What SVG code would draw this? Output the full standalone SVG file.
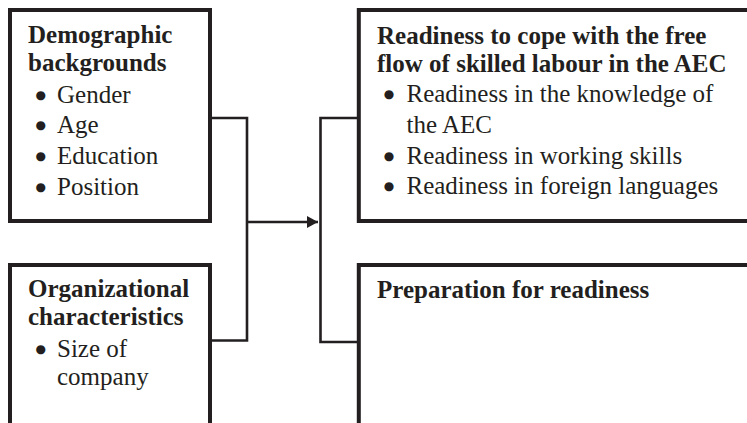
<svg xmlns="http://www.w3.org/2000/svg" width="747" height="423" viewBox="0 0 747 423">
<defs>
<style>
.box{fill:#fff;stroke:#231f20;stroke-width:4}
.con{fill:none;stroke:#231f20;stroke-width:2.6}
text{font-family:"Liberation Serif","Times New Roman",serif;font-size:25px;fill:#231f20}
.h{font-weight:bold}
.b{font-family:"DejaVu Sans",sans-serif;font-size:12px;text-anchor:middle}
</style>
<marker id="arr" markerUnits="userSpaceOnUse" markerWidth="12" markerHeight="14" refX="11" refY="7" orient="auto">
<path d="M0,1 L11,7 L0,13 Z" fill="#231f20"/>
</marker>
</defs>
<rect width="747" height="423" fill="#fff"/>
<g id="connectors">
<path class="con" d="M210,118 H247 V340.5 H210"/>
<path class="con" d="M358.8,118 H320.5 V342 H358.8"/>
<path class="con" d="M247,222 H318" marker-end="url(#arr)"/>
</g>
<g id="demographic">
<rect class="box" x="10" y="10" width="200" height="211"/>
<text class="h" x="28" y="43">Demographic</text>
<text class="h" x="28" y="71">backgrounds</text>
<text class="b" x="40.7" y="98.5">●</text><text x="57" y="102.5">Gender</text>
<text class="b" x="40.7" y="129">●</text><text x="57" y="133">Age</text>
<text class="b" x="40.7" y="160">●</text><text x="57" y="164">Education</text>
<text class="b" x="40.7" y="191">●</text><text x="57" y="195">Position</text>
</g>
<g id="organizational">
<rect class="box" x="10" y="265" width="200" height="200"/>
<text class="h" x="28" y="297">Organizational</text>
<text class="h" x="28" y="325">characteristics</text>
<text class="b" x="40.7" y="352.5">●</text><text x="57" y="356.5">Size of</text>
<text x="57" y="385">company</text>
</g>
<g id="readiness">
<rect class="box" x="358.8" y="10" width="420" height="211"/>
<text class="h" x="377" y="44">Readiness to cope with the free</text>
<text class="h" x="377" y="72">flow of skilled labour in the AEC</text>
<text class="b" x="389" y="98">●</text><text x="406.5" y="102">Readiness in the knowledge of</text>
<text x="406.5" y="133">the AEC</text>
<text class="b" x="389" y="159.5">●</text><text x="406.5" y="163.5">Readiness in working skills</text>
<text class="b" x="389" y="190">●</text><text x="406.5" y="194">Readiness in foreign languages</text>
</g>
<g id="preparation">
<rect class="box" x="358.8" y="265" width="420" height="200"/>
<text class="h" x="377" y="298">Preparation for readiness</text>
</g>
</svg>
